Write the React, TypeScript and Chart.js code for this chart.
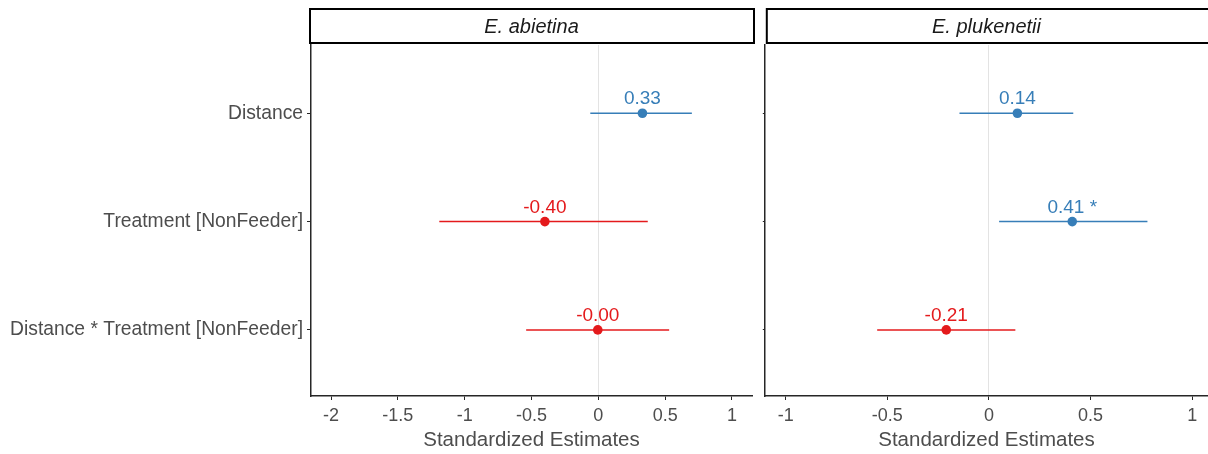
import React, { useEffect, useRef } from "react";
import { Chart, registerables } from "chart.js";
Chart.register(...registerables);

// ---- data ----
const terms = ["Distance", "Treatment [NonFeeder]", "Distance * Treatment [NonFeeder]"];
const panelTitles = ["E. abietina", "E. plukenetii"];

const abietinaEst = [0.33, -0.40, -0.004];
const abietinaLow = [-0.06, -1.19, -0.54];
const abietinaHigh = [0.70, 0.37, 0.53];
const abietinaStars = ["", "", ""];

const plukenetiiEst = [0.14, 0.41, -0.21];
const plukenetiiLow = [-0.145, 0.05, -0.55];
const plukenetiiHigh = [0.415, 0.78, 0.13];
const plukenetiiStars = ["", "*", ""];

const abietinaTicks = [-2, -1.5, -1, -0.5, 0, 0.5, 1];
const plukenetiiTicks = [-1, -0.5, 0, 0.5, 1];

const POS = "#377EB8";
const NEG = "#E41A1C";
const FONT = "'Liberation Sans', Arial, sans-serif";
const GREY = "#4D4D4D";
const AXIS = "#262626";

type PanelCfg = {
  title: string;
  est: number[];
  low: number[];
  high: number[];
  stars: string[];
  ticks: number[];
  xmin: number;
  xmax: number;
  showY: boolean;
  yWidth: number;
  padRight: number;
  stripLeftExtra: number;
};

function makeChart(canvas: HTMLCanvasElement, p: PanelCfg) {
  const colors = p.est.map((v) => (v < 0 ? NEG : POS));
  const datasets: any[] = p.est.map((_, i) => ({
    type: "scatter",
    showLine: true,
    data: [
      { x: p.low[i], y: i + 1 },
      { x: p.high[i], y: i + 1 },
    ],
    borderColor: colors[i],
    borderWidth: 1.5,
    pointRadius: 0,
    pointHoverRadius: 0,
  }));
  datasets.push({
    type: "scatter",
    data: p.est.map((v, i) => ({ x: v, y: i + 1 })),
    pointRadius: 4.8,
    pointBackgroundColor: colors,
    pointBorderColor: colors,
    pointBorderWidth: 0,
  });

  const labelPlugin = {
    id: "valueLabels",
    afterDatasetsDraw(chart: any) {
      const { ctx, scales } = chart;
      ctx.save();
      ctx.font = `19px ${FONT}`;
      ctx.textAlign = "center";
      ctx.textBaseline = "alphabetic";
      p.est.forEach((v, i) => {
        const x = scales.x.getPixelForValue(v);
        const y = scales.y.getPixelForValue(i + 1);
        ctx.fillStyle = colors[i];
        const txt = v.toFixed(2) + (p.stars[i] ? " " + p.stars[i] : "");
        ctx.fillText(txt, x, y - 9);
      });
      ctx.restore();
    },
  };

  const stripPlugin = {
    id: "strip",
    afterDraw(chart: any) {
      const { ctx, chartArea } = chart;
      ctx.save();
      const l = chartArea.left - 1 + p.stripLeftExtra;
      const r = chartArea.right + 2;
      const t = 9;
      const b = 43;
      ctx.fillStyle = "#ffffff";
      ctx.fillRect(l, t, r - l, b - t);
      ctx.strokeStyle = "#000000";
      ctx.lineWidth = 2;
      ctx.strokeRect(l, t, r - l, b - t);
      ctx.fillStyle = "#1A1A1A";
      ctx.font = `italic 20px ${FONT}`;
      ctx.textAlign = "center";
      ctx.textBaseline = "middle";
      ctx.fillText(p.title, (chartArea.left + chartArea.right) / 2, (t + b) / 2 + 1);
      ctx.restore();
    },
  };

  return new Chart(canvas, {
    type: "scatter",
    data: { datasets },
    plugins: [labelPlugin, stripPlugin],
    options: {
      animation: false,
      responsive: false,
      maintainAspectRatio: false,
      events: [],
      layout: { padding: { top: 45, right: p.padRight, left: 0, bottom: 0 } },
      plugins: {
        legend: { display: false },
        tooltip: { enabled: false },
        title: { display: false },
      },
      scales: {
        x: {
          type: "linear",
          min: p.xmin,
          max: p.xmax,
          afterBuildTicks: (scale: any) => {
            scale.ticks = p.ticks.map((v) => ({ value: v }));
          },
          afterFit: (scale: any) => {
            scale.height = 58;
          },
          ticks: {
            callback: (v: any) => String(Math.round(Number(v) * 10) / 10),
            color: GREY,
            font: { family: FONT, size: 18 },
            padding: 5,
            maxRotation: 0,
            autoSkip: false,
          },
          grid: {
            drawOnChartArea: true,
            color: (c: any) => (c.tick && c.tick.value === 0 ? "#E3E3E3" : "rgba(0,0,0,0)"),
            lineWidth: 1,
            tickLength: 4,
            tickColor: AXIS,
            tickWidth: 1,
          },
          border: { display: true, color: AXIS, width: 1.5 },
          title: {
            display: true,
            text: "Standardized Estimates",
            color: GREY,
            font: { family: FONT, size: 20.5 },
            padding: { top: 0, bottom: 1 },
          },
        },
        y: {
          type: "linear",
          reverse: true,
          min: 0.37,
          max: 3.61,
          afterBuildTicks: (scale: any) => {
            scale.ticks = terms.map((_, i) => ({ value: i + 1 }));
          },
          afterFit: (scale: any) => {
            scale.width = p.yWidth;
          },
          ticks: {
            display: p.showY,
            callback: (v: any) => terms[Number(v) - 1],
            color: GREY,
            font: { family: FONT, size: 19.3 },
            padding: 4,
            autoSkip: false,
          },
          grid: {
            drawOnChartArea: false,
            tickLength: p.showY ? 4 : 2,
            tickColor: AXIS,
            tickWidth: 1,
          },
          border: { display: true, color: AXIS, width: 1.5 },
        },
      },
    } as any,
  });
}

export default function App() {
  const leftRef = useRef<HTMLCanvasElement>(null);
  const rightRef = useRef<HTMLCanvasElement>(null);

  useEffect(() => {
    const c1 = makeChart(leftRef.current!, {
      title: panelTitles[0],
      est: abietinaEst,
      low: abietinaLow,
      high: abietinaHigh,
      stars: abietinaStars,
      ticks: abietinaTicks,
      xmin: -2.15,
      xmax: 1.15,
      showY: true,
      yWidth: 311,
      padRight: 8,
      stripLeftExtra: 0,
    });
    const c2 = makeChart(rightRef.current!, {
      title: panelTitles[1],
      est: plukenetiiEst,
      low: plukenetiiLow,
      high: plukenetiiHigh,
      stars: plukenetiiStars,
      ticks: plukenetiiTicks,
      xmin: -1.103,
      xmax: 1.079,
      showY: false,
      yWidth: 4,
      padRight: 0,
      stripLeftExtra: 3,
    });
    return () => {
      c1.destroy();
      c2.destroy();
    };
  }, []);

  return (
    <div
      style={{
        position: "fixed",
        left: 0,
        top: 0,
        width: 1208,
        height: 454,
        background: "#fff",
        overflow: "hidden",
      }}
    >
      <canvas ref={leftRef} width={760} height={454} style={{ position: "absolute", left: 0, top: 0 }} />
      <canvas ref={rightRef} width={453} height={454} style={{ position: "absolute", left: 760, top: 0 }} />
    </div>
  );
}
